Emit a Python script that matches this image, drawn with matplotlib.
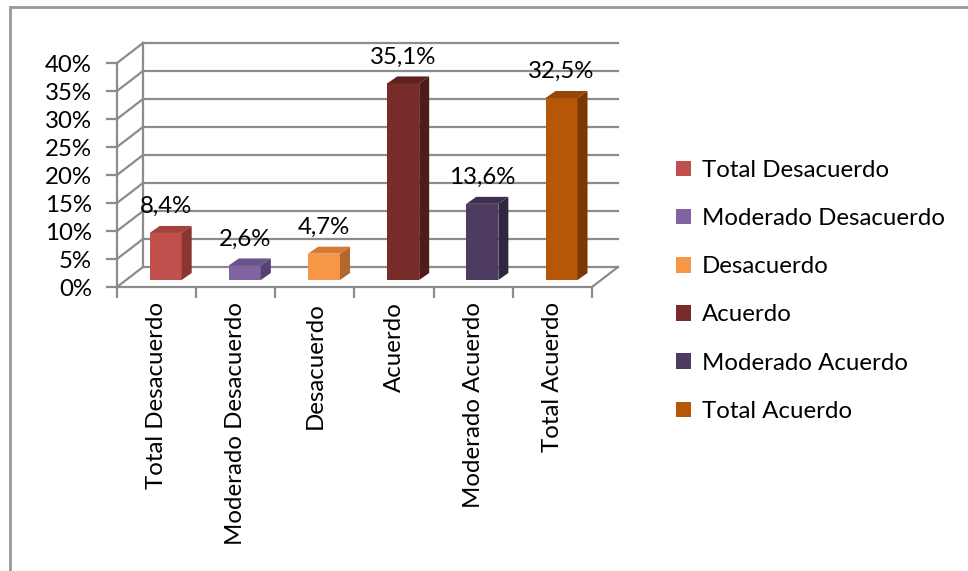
import numpy as np
import matplotlib.pyplot as plt
from matplotlib.patches import Polygon, Patch, Rectangle

categories = ["Total Desacuerdo", "Moderado Desacuerdo", "Desacuerdo",
              "Acuerdo", "Moderado Acuerdo", "Total Acuerdo"]
values = [8.4, 2.6, 4.7, 35.1, 13.6, 32.5]
labels = ["8,4%", "2,6%", "4,7%", "35,1%", "13,6%", "32,5%"]
yticks = [0, 5, 10, 15, 20, 25, 30, 35, 40]

front_col = ["#C0504D", "#8064A2", "#F79646", "#772C2A", "#4D3B62", "#B65708"]
top_col = ["#A5403D", "#6A528A", "#D57B35", "#602220", "#3E2F50", "#984606"]
side_col = ["#8A3532", "#564273", "#B4672B", "#4E1B1A", "#312540", "#7A3804"]

plt.rcParams['font.family'] = ['Lato', 'DejaVu Sans']
FS = 17.3
grid_c = "#8C8C8C"

fig = plt.figure(figsize=(9.68, 5.71), dpi=100)
W, H = 968, 571
ax = fig.add_axes([117 / W, 1 - 287 / H, (592 - 117) / W, (287 - 63) / H])
ax.set_xlim(-0.5, 5.5)
ax.set_ylim(0, 40)

# depth of the 3D box in data units
dx_full = 26 / (475 / 6)
dy_full = 20 / (224 / 40)

# back wall grid
for v in yticks:
    ax.plot([-0.5 + dx_full, 5.5 + dx_full], [v + dy_full, v + dy_full],
            color=grid_c, lw=1.6, clip_on=False, zorder=1)
    ax.plot([-0.5, -0.5 + dx_full], [v, v + dy_full],
            color=grid_c, lw=1.6, clip_on=False, zorder=1)
ax.plot([-0.5 + dx_full, -0.5 + dx_full], [dy_full, 40 + dy_full],
        color=grid_c, lw=1.6, clip_on=False, zorder=1)
ax.plot([5.5, 5.5 + dx_full], [0, dy_full], color=grid_c, lw=1.6,
        clip_on=False, zorder=1)

# bars
bw = 32 / (475 / 6)
d0 = 0.35
bdx = 10 / (475 / 6)
bdy = 7 / (224 / 40)
for i, v in enumerate(values):
    x0 = i - bw / 2 + d0 * dx_full
    y0 = d0 * dy_full
    y1 = y0 + v
    ax.add_patch(Polygon([[x0, y0], [x0 + bw, y0], [x0 + bw, y1], [x0, y1]],
                         closed=True, fc=front_col[i], ec='none', zorder=3, clip_on=False))
    ax.add_patch(Polygon([[x0, y1], [x0 + bw, y1], [x0 + bw + bdx, y1 + bdy], [x0 + bdx, y1 + bdy]],
                         closed=True, fc=top_col[i], ec='none', zorder=3, clip_on=False))
    ax.add_patch(Polygon([[x0 + bw, y0], [x0 + bw + bdx, y0 + bdy], [x0 + bw + bdx, y1 + bdy], [x0 + bw, y1]],
                         closed=True, fc=side_col[i], ec='none', zorder=3, clip_on=False))
    ax.text(x0 + bw / 2, y1 + bdy + 2.3, labels[i], ha='center', va='baseline',
            fontsize=FS, color='black', zorder=4)

# axes styling
for s in ['top', 'right']:
    ax.spines[s].set_visible(False)
for s in ['left', 'bottom']:
    ax.spines[s].set_color(grid_c)
    ax.spines[s].set_linewidth(1.6)
ax.set_yticks(yticks)
ax.set_yticklabels([f"{t}%" for t in yticks], fontsize=FS)
ax.tick_params(axis='y', length=8, width=1.6, color=grid_c, pad=10)
ax.set_xticks(np.arange(-0.5, 6, 1), minor=True)
ax.set_xticks(np.arange(6))
ax.set_xticklabels(categories, rotation=90, fontsize=FS, va='top', ha='center')
ax.tick_params(axis='x', which='major', length=0, pad=11)
ax.tick_params(axis='x', which='minor', length=8, width=1.6, color=grid_c)
ax.patch.set_alpha(0)

handles = [Patch(fc=c, ec='none') for c in front_col]
fig.legend(handles, categories, loc='upper left', bbox_to_anchor=(676 / W, 1 - 160 / H),
           frameon=False, fontsize=FS, handlelength=0.62, handleheight=0.62,
           handletextpad=0.45, labelspacing=1.13, borderpad=0, borderaxespad=0)

fig.patches.append(Rectangle((10 / W, -0.1), 1, 1.1 - 7 / H, transform=fig.transFigure,
                             fill=False, ec="#989898", lw=2, clip_on=False))

fig.savefig("out.png", dpi=100)
